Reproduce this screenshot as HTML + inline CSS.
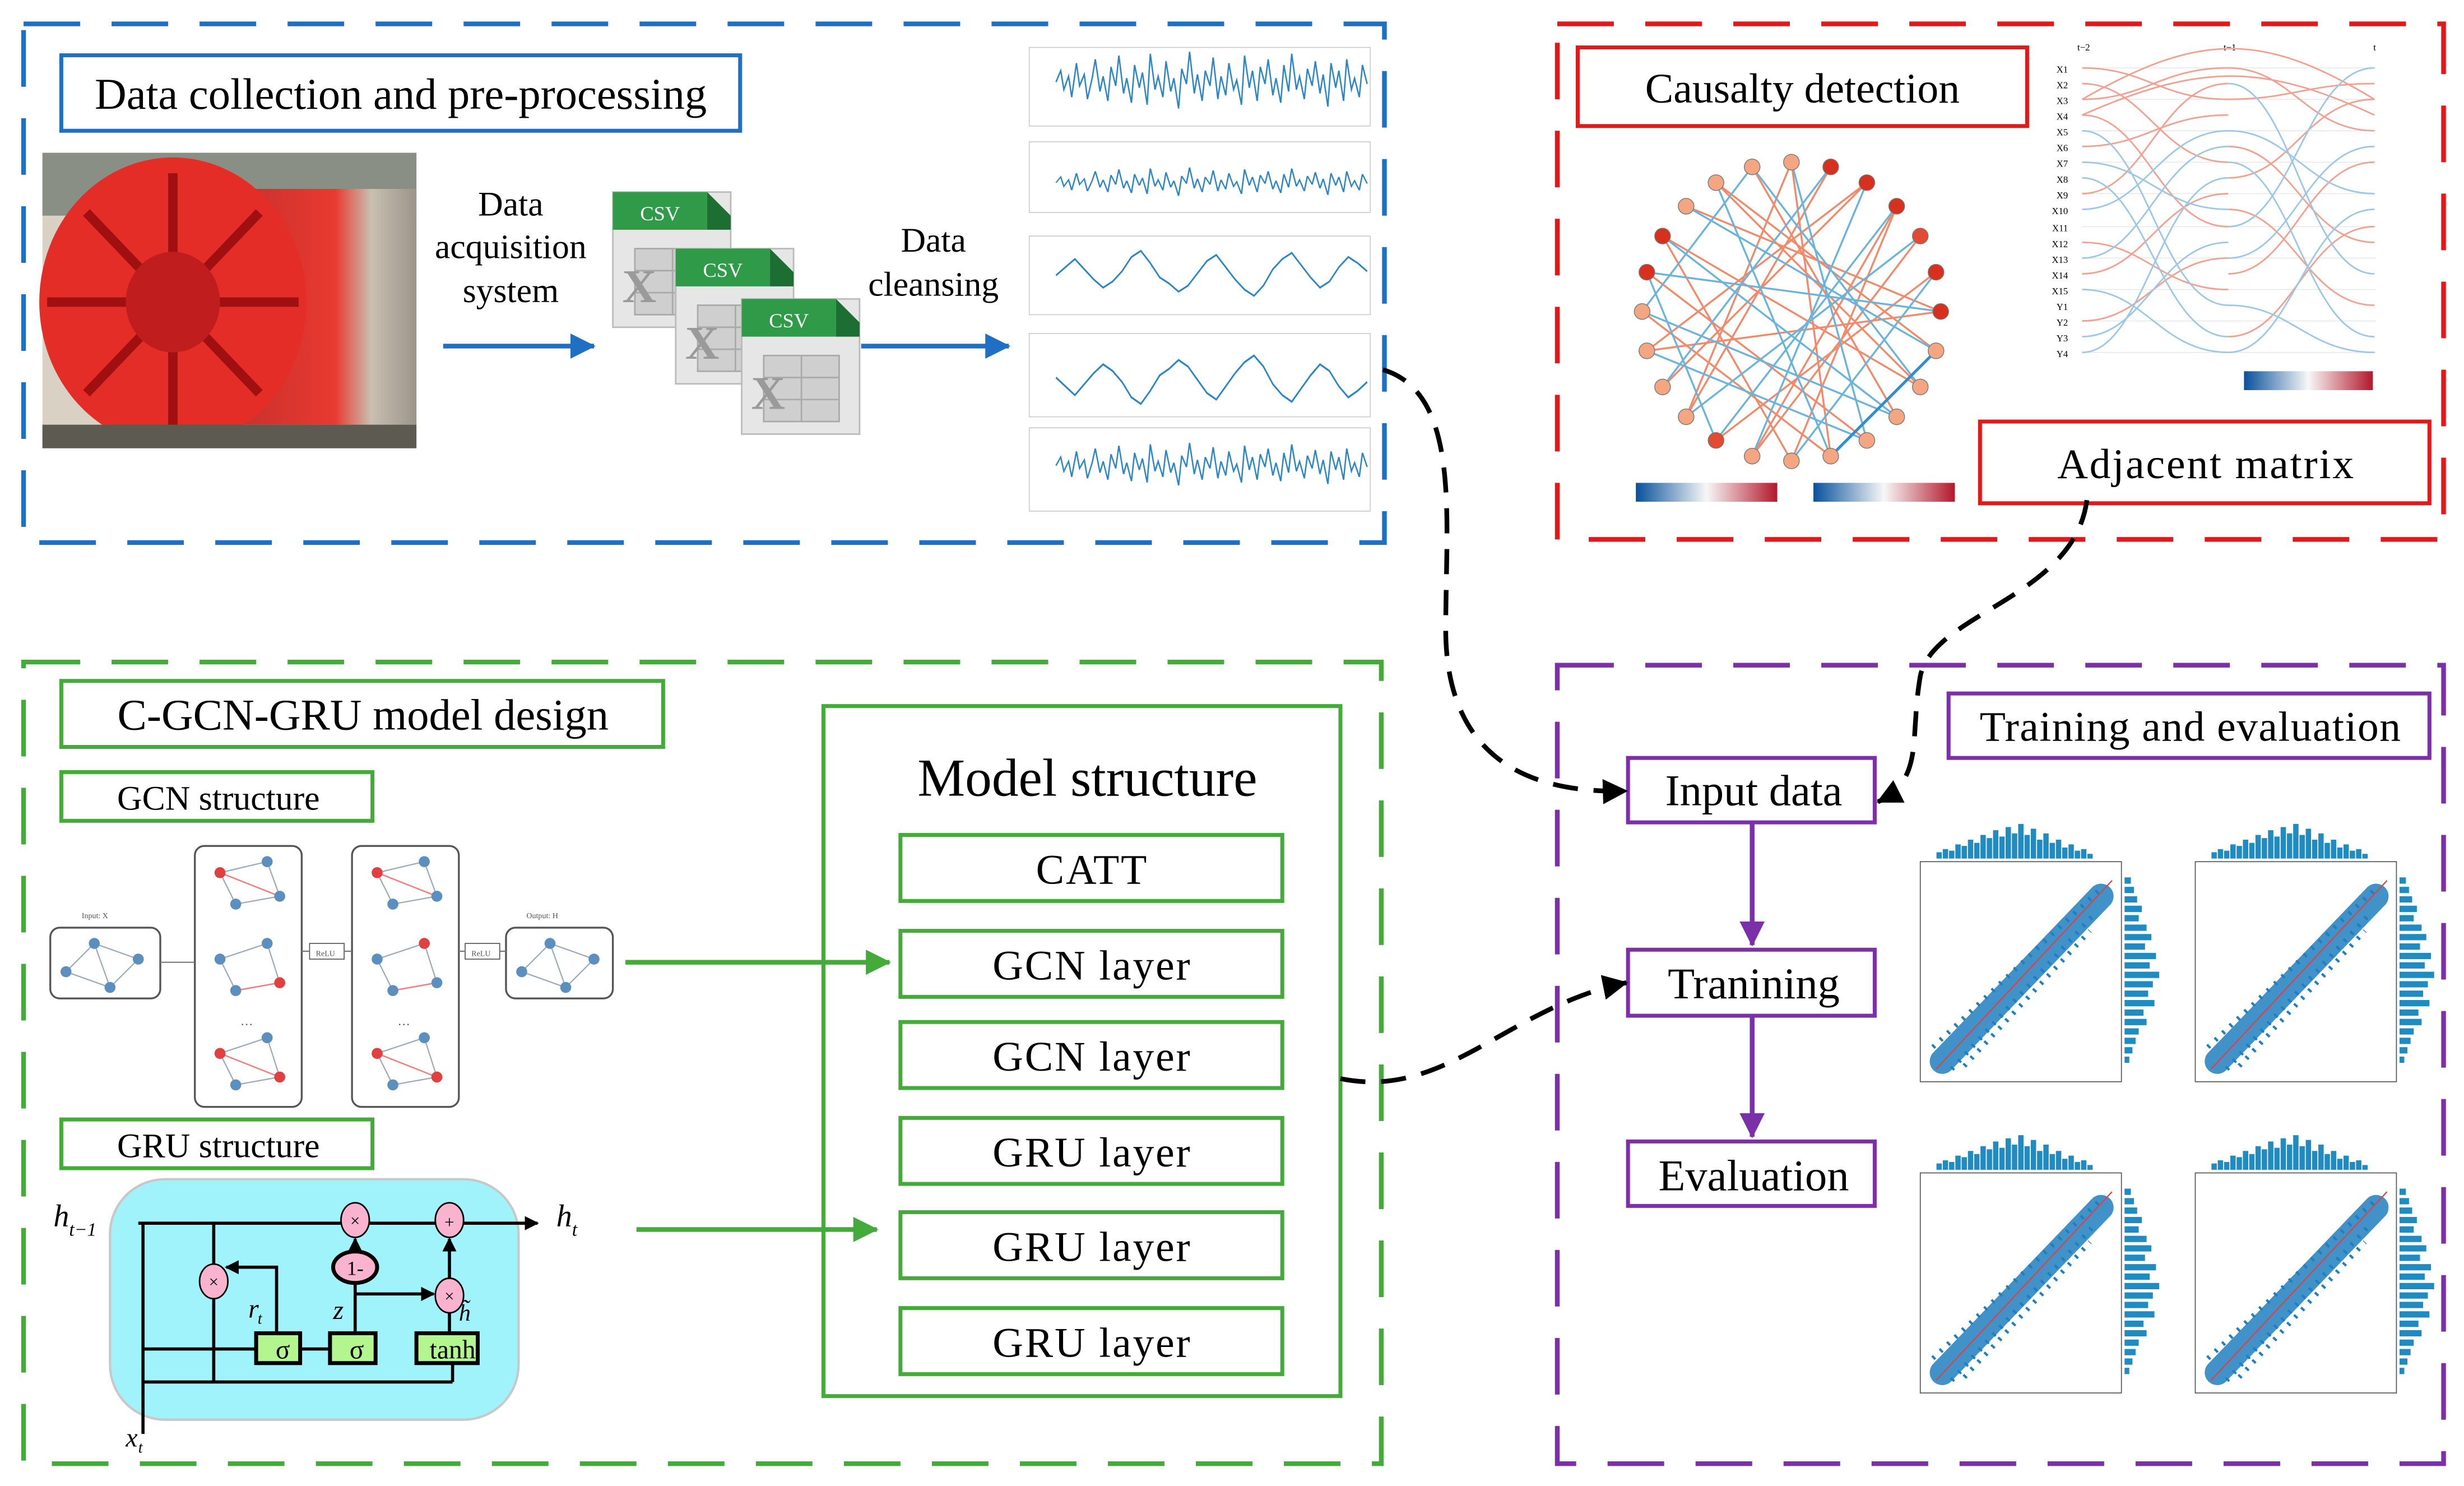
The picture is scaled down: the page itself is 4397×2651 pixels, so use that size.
<!DOCTYPE html>
<html><head><meta charset="utf-8"><style>
html,body{margin:0;padding:0;background:#fff;}
svg{display:block;}
text{font-family:"Liberation Serif",serif;}
</style></head><body>
<svg width="4397" height="2651" viewBox="0 0 1568 945" xmlns="http://www.w3.org/2000/svg" xmlns:xlink="http://www.w3.org/1999/xlink">
<defs>
<marker id="ab" markerWidth="16" markerHeight="16" refX="15" refY="8" orient="auto" markerUnits="userSpaceOnUse"><path d="M0,0 L16,8 L0,16z" fill="#1f6fc5"/></marker>
<marker id="ag" markerWidth="16" markerHeight="16" refX="15" refY="8" orient="auto" markerUnits="userSpaceOnUse"><path d="M0,0 L16,8 L0,16z" fill="#44aa3a"/></marker>
<marker id="ap" markerWidth="16" markerHeight="16" refX="15" refY="8" orient="auto" markerUnits="userSpaceOnUse"><path d="M0,0 L16,8 L0,16z" fill="#7b2fa8"/></marker>
<marker id="ak" markerWidth="16" markerHeight="16" refX="15" refY="8" orient="auto" markerUnits="userSpaceOnUse"><path d="M0,0 L16,8 L0,16z" fill="#000"/></marker>
<marker id="ak2" markerWidth="9" markerHeight="9" refX="8" refY="4.5" orient="auto" markerUnits="userSpaceOnUse"><path d="M0,0 L9,4.5 L0,9z" fill="#000"/></marker>
<linearGradient id="tbm" x1="0" y1="0" x2="1" y2="0"><stop offset="0" stop-color="#c8302c"/><stop offset=".55" stop-color="#e83a30"/><stop offset=".75" stop-color="#c8c0b0"/><stop offset="1" stop-color="#9a948a"/></linearGradient>
<linearGradient id="cb"><stop offset="0" stop-color="#08519c"/><stop offset=".5" stop-color="#f7f7f7"/><stop offset="1" stop-color="#b2182b"/></linearGradient>
<g id="csvi">
<rect x="0" y="0" width="75" height="86" fill="#e6e6e6" stroke="#bbb"/>
<rect x="0" y="0" width="60" height="24" fill="#2f9a48"/>
<path d="M60,0 l15,15 v9 h-15z" fill="#1d6e33"/>
<text x="30" y="18" font-family="Liberation Sans" font-size="13" fill="#fff" text-anchor="middle">CSV</text>
<rect x="14" y="36" width="48" height="42" fill="#cfcfcf" stroke="#aaa"/>
<path d="M38,36 v42 M14,50 h48 M14,64 h48" stroke="#aaa"/>
<text x="6" y="70" font-family="Liberation Sans" font-size="30" font-weight="bold" fill="#9a9a9a">X</text>
</g>
<polyline id="s1" fill="none" stroke="#2b86c4" stroke-width="0.9" points="0,0 3,-6 5,4 8,-3 10,8 13,-10 15,2 18,-4 20,9 23,-2 25,-12 28,5 30,-3 33,10 35,-8 38,2 40,-14 43,6 45,-2 48,11 50,-9 53,3 55,-5 58,12 60,-15 63,4 65,-3 68,8 70,-11 73,5 75,-2 78,14 80,-7 83,1 85,-16 88,6 90,-4 93,10 95,-6 98,2 100,-13 103,9 105,-3 108,7 110,-10 113,4 115,-1 118,12 120,-14 123,3 125,-6 128,10 130,-8 133,1 135,-12 138,7 140,-2 143,11 145,-9 148,5 150,-15 153,4 155,-3 158,9 160,-7 163,2 165,-11 168,6 170,-4 173,13 175,-10 178,3 180,-6 183,10 185,-12 188,4 190,-2 193,8 195,-9 198,1"/>
<polyline id="s2" fill="none" stroke="#2b86c4" stroke-width="0.9" points="0,0 6,-4 12,-8 18,-3 24,2 30,6 36,3 42,-2 48,-9 54,-12 60,-6 66,1 72,4 78,8 84,5 90,-1 96,-7 102,-10 108,-4 114,2 120,7 126,10 132,5 138,-3 144,-8 150,-11 156,-5 162,1 168,6 174,3 180,-4 186,-9 192,-6 198,-2"/>
<g id="plot">
<rect x="0" y="28" width="128" height="140" fill="#fff" stroke="#555" stroke-width="0.6"/>
<path d="M12,26 v-4 M16,26 v-6 M20,26 v-5 M24,26 v-9 M28,26 v-8 M32,26 v-12 M36,26 v-10 M40,26 v-15 M44,26 v-13 M48,26 v-18 M52,26 v-14 M56,26 v-20 M60,26 v-16 M64,26 v-22 M68,26 v-15 M72,26 v-19 M76,26 v-12 M80,26 v-16 M84,26 v-10 M88,26 v-12 M92,26 v-7 M96,26 v-9 M100,26 v-5 M104,26 v-6 M108,26 v-3" stroke="#1f8bc0" stroke-width="3.4"/>
<path d="M130,40 h4 M130,46 h6 M130,52 h8 M130,58 h11 M130,64 h9 M130,70 h14 M130,76 h17 M130,82 h13 M130,88 h20 M130,94 h16 M130,100 h22 M130,106 h18 M130,112 h15 M130,118 h19 M130,124 h12 M130,130 h14 M130,136 h9 M130,142 h7 M130,148 h5 M130,154 h3" stroke="#1f8bc0" stroke-width="4"/>
<path d="M14,155 L115,50" stroke="#1f7fc0" stroke-width="16" stroke-dasharray="1.8 1" stroke-linecap="round" opacity=".85"/>
<path d="M20,160 L112,60 M8,146 L116,44 M28,158 L108,72" stroke="#1f7fc0" stroke-width="3" stroke-dasharray="1.5 5"/>
<path d="M10,160 L122,40" stroke="#e04040" stroke-width="0.8"/>
</g>
</defs>
<rect x="15" y="15" width="866" height="330" fill="none" stroke="#1f6fc5" stroke-width="3" stroke-dasharray="36 20"/>
<rect x="991" y="15" width="564" height="328" fill="none" stroke="#e01a1a" stroke-width="3" stroke-dasharray="36 20"/>
<rect x="15" y="421" width="864" height="510" fill="none" stroke="#44aa3a" stroke-width="3" stroke-dasharray="36 20"/>
<rect x="991" y="423" width="564" height="508" fill="none" stroke="#7b2fa8" stroke-width="3" stroke-dasharray="36 20"/>

<rect x="39" y="35" width="432" height="48" fill="#fff" stroke="#1f6fc5" stroke-width="2.5"/>
<text x="255" y="69" font-size="28" text-anchor="middle">Data collection and pre-processing</text>
<rect x="27" y="97" width="238" height="188" fill="#d9d2c4"/>
<rect x="27" y="97" width="238" height="40" fill="#8a8f86"/>
<rect x="150" y="120" width="115" height="150" fill="url(#tbm)"/>
<ellipse cx="110" cy="192" rx="85" ry="92" fill="#e52d28"/>
<g stroke="#a01010" stroke-width="6"><path d="M110,110 v164 M30,192 h160 M55,135 L165,250 M165,135 L55,250"/></g>
<ellipse cx="110" cy="192" rx="30" ry="32" fill="#c01e1e"/>
<rect x="27" y="270" width="238" height="15" fill="#5d5a52"/>
<text font-size="22" text-anchor="middle"><tspan x="325" y="137">Data</tspan><tspan x="325" y="164">acquisition</tspan><tspan x="325" y="192">system</tspan></text>
<line x1="282" y1="220" x2="378" y2="220" stroke="#1f6fc5" stroke-width="3" marker-end="url(#ab)"/>
<use xlink:href="#csvi" x="390" y="122"/><use xlink:href="#csvi" x="430" y="158"/><use xlink:href="#csvi" x="472" y="190"/>
<text font-size="22" text-anchor="middle"><tspan x="594" y="160">Data</tspan><tspan x="594" y="188">cleansing</tspan></text>
<line x1="548" y1="220" x2="642" y2="220" stroke="#1f6fc5" stroke-width="3" marker-end="url(#ab)"/>
<g fill="#fff" stroke="#ccc" stroke-width="0.6"><rect x="655" y="30" width="217" height="50"/><rect x="655" y="90" width="217" height="45"/><rect x="655" y="150" width="217" height="50"/><rect x="655" y="212" width="217" height="53"/><rect x="655" y="272" width="217" height="53"/></g>
<use xlink:href="#s1" transform="translate(672,52) scale(1,1.2)"/>
<use xlink:href="#s1" transform="translate(672,116) scale(1,0.6)"/>
<use xlink:href="#s2" transform="translate(672,175) scale(1,1.3)"/>
<use xlink:href="#s2" transform="translate(672,240) scale(1,-1.4)"/>
<use xlink:href="#s1" transform="translate(672,296) scale(1,0.9)"/>

<rect x="1004" y="30" width="286" height="50" fill="#fff" stroke="#e01a1a" stroke-width="2.5"/>
<text x="1147" y="65" font-size="27" text-anchor="middle">Causalty detection</text>
<g fill="none" stroke-width="1.2">
<path stroke="#f08a6a" d="M1235,198 L1073,131 M1232,223 L1092,116 M1222,246 L1058,150 M1207,265 L1115,106 M1188,280 L1048,173 M1165,290 L1140,103 M1140,293 L1207,131 M1115,290 L1222,150 M1092,280 L1232,173 M1073,265 L1165,106 M1058,246 L1188,116 M1048,223 L1235,198 M1045,198 L1165,290 M1058,150 L1140,293 M1092,116 L1222,246 M1140,103 L1073,265 M1188,116 L1048,223 M1207,131 L1115,290"/>
<path stroke="#6ab4dc" d="M1235,198 L1048,173 M1232,223 L1073,131 M1222,246 L1115,106 M1207,265 L1058,150 M1188,280 L1140,103 M1165,290 L1092,116 M1140,293 L1232,173 M1115,290 L1188,116 M1092,280 L1207,131 M1073,265 L1222,150 M1058,246 L1165,106 M1048,223 L1188,280 M1045,198 L1207,265 M1048,173 L1092,280 M1073,131 L1232,223 M1115,106 L1045,198"/>
<path stroke="#2f8fcf" stroke-width="1.8" d="M1165,290 L1232,223"/>
</g>
<g stroke="#777" stroke-width="0.5">
<circle cx="1235" cy="198" r="5" fill="#d7301f"/><circle cx="1232" cy="223" r="5" fill="#f4a582"/><circle cx="1222" cy="246" r="5" fill="#f4a582"/><circle cx="1207" cy="265" r="5" fill="#f4a582"/><circle cx="1188" cy="280" r="5" fill="#f4a582"/><circle cx="1165" cy="290" r="5" fill="#f4a582"/><circle cx="1140" cy="293" r="5" fill="#f4a582"/><circle cx="1115" cy="290" r="5" fill="#f4a582"/><circle cx="1092" cy="280" r="5" fill="#e34a33"/><circle cx="1073" cy="265" r="5" fill="#f4a582"/><circle cx="1058" cy="246" r="5" fill="#f4a582"/><circle cx="1048" cy="223" r="5" fill="#f4a582"/><circle cx="1045" cy="198" r="5" fill="#f4a582"/><circle cx="1048" cy="173" r="5" fill="#d7301f"/><circle cx="1058" cy="150" r="5" fill="#d7301f"/><circle cx="1073" cy="131" r="5" fill="#f4a582"/><circle cx="1092" cy="116" r="5" fill="#f4a582"/><circle cx="1115" cy="106" r="5" fill="#f4a582"/><circle cx="1140" cy="103" r="5" fill="#f4a582"/><circle cx="1165" cy="106" r="5" fill="#d7301f"/><circle cx="1188" cy="116" r="5" fill="#d7301f"/><circle cx="1207" cy="131" r="5" fill="#d7301f"/><circle cx="1222" cy="150" r="5" fill="#e34a33"/><circle cx="1232" cy="173" r="5" fill="#d7301f"/>
</g>
<g font-family="Liberation Sans" font-size="6" text-anchor="end">
<text x="1316" y="46">X1</text><text x="1316" y="56">X2</text><text x="1316" y="66">X3</text><text x="1316" y="76">X4</text><text x="1316" y="86">X5</text><text x="1316" y="96">X6</text><text x="1316" y="106">X7</text><text x="1316" y="116">X8</text><text x="1316" y="126">X9</text><text x="1316" y="136">X10</text><text x="1316" y="147">X11</text><text x="1316" y="157">X12</text><text x="1316" y="167">X13</text><text x="1316" y="177">X14</text><text x="1316" y="187">X15</text><text x="1316" y="197">Y1</text><text x="1316" y="207">Y2</text><text x="1316" y="217">Y3</text><text x="1316" y="227">Y4</text>
<text x="1330" y="32">t−2</text><text x="1423" y="32">t−1</text><text x="1512" y="32">t</text>
</g>
<g stroke="#e6e6e6" stroke-width="0.5"><path d="M1325,43 H1512 M1325,63 H1512 M1325,83 H1512 M1325,103 H1512 M1325,123 H1512 M1325,144 H1512 M1325,164 H1512 M1325,184 H1512 M1325,204 H1512 M1325,224 H1512"/></g>
<g fill="none" stroke-width="1">
<path stroke="#f4a090" d="M1325,43 C1365,43 1375,63 1418,63 M1325,53 C1365,53 1375,103 1418,103 M1325,63 C1365,63 1375,43 1418,43 M1325,73 C1365,73 1375,144 1418,144 M1325,93 C1365,93 1375,73 1418,73 M1325,123 C1365,123 1375,53 1418,53 M1325,154 C1365,154 1375,184 1418,184 M1325,174 C1365,174 1375,123 1418,123 M1325,204 C1365,204 1375,164 1418,164 M1418,43 C1458,43 1468,83 1511,83 M1418,63 C1458,63 1468,53 1511,53 M1418,93 C1458,93 1468,154 1511,154 M1418,113 C1458,113 1468,63 1511,63 M1418,133 C1458,133 1468,194 1511,194 M1418,174 C1458,174 1468,103 1511,103 M1418,214 C1458,214 1468,144 1511,144 M1325,63 C1400,20 1440,20 1511,63 M1325,73 C1400,40 1440,40 1511,73"/>
<path stroke="#9cc8e6" d="M1325,83 C1365,83 1375,194 1418,194 M1325,103 C1365,103 1375,133 1418,133 M1325,113 C1365,113 1375,214 1418,214 M1325,133 C1365,133 1375,83 1418,83 M1325,164 C1365,164 1375,93 1418,93 M1325,184 C1365,184 1375,224 1418,224 M1325,214 C1365,214 1375,154 1418,154 M1325,224 C1365,224 1375,113 1418,113 M1418,53 C1458,53 1468,174 1511,174 M1418,83 C1458,83 1468,123 1511,123 M1418,103 C1458,103 1468,214 1511,214 M1418,144 C1458,144 1468,43 1511,43 M1418,164 C1458,164 1468,93 1511,93 M1418,194 C1458,194 1468,224 1511,224 M1418,224 C1458,224 1468,133 1511,133"/>
</g>
<rect x="1041" y="307" width="90" height="12" fill="url(#cb)"/>
<rect x="1154" y="307" width="90" height="12" fill="url(#cb)"/>
<rect x="1428" y="236" width="82" height="12" fill="url(#cb)"/>
<rect x="1260" y="268" width="286" height="52" fill="#fff" stroke="#e01a1a" stroke-width="2.5"/>
<text x="1404" y="304" font-size="27" text-anchor="middle" letter-spacing="1">Adjacent matrix</text>

<rect x="39" y="433" width="383" height="42" fill="#fff" stroke="#44aa3a" stroke-width="2.5"/>
<text x="231" y="464" font-size="28" text-anchor="middle">C-GCN-GRU model design</text>
<rect x="39" y="491" width="198" height="31" fill="#fff" stroke="#44aa3a" stroke-width="2.5"/>
<text x="139" y="515" font-size="22" text-anchor="middle">GCN structure</text>
<g fill="#fff" stroke="#555" stroke-width="1.2">
<rect x="32" y="590" width="70" height="45" rx="6"/><rect x="124" y="538" width="68" height="166" rx="6"/><rect x="224" y="538" width="68" height="166" rx="6"/><rect x="322" y="590" width="68" height="45" rx="6"/>
<rect x="197" y="600" width="22" height="10" stroke-width=".6"/><rect x="296" y="600" width="22" height="10" stroke-width=".6"/>
</g>
<path d="M102,612 H124 M192,605 H197 M219,605 H224 M292,605 H296 M318,605 H322" stroke="#777" stroke-width="0.8"/>
<g stroke="#9ab" stroke-width="0.8" fill="none"><path d="M42,618 L60,600 L88,610 L70,628 L42,618 M60,600 L70,628 M332,618 L350,600 L378,610 L360,628 L332,618 M350,600 L360,628 M140,555 L170,548 L178,570 L150,575z M140,610 L170,600 L178,625 L150,630z M140,670 L170,660 L178,685 L150,690z M240,555 L270,548 L278,570 L250,575z M240,610 L270,600 L278,625 L250,630z M240,670 L270,660 L278,685 L250,690z"/></g>
<g stroke="#f08080" stroke-width="0.9" fill="none"><path d="M140,555 L178,570 M150,630 L178,625 M140,670 L178,685 M240,555 L278,570 M250,630 L278,625 M240,670 L278,685"/></g>
<g fill="#5a8fc0">
<circle cx="42" cy="618" r="3.5"/><circle cx="60" cy="600" r="3.5"/><circle cx="88" cy="610" r="3.5"/><circle cx="70" cy="628" r="3.5"/>
<circle cx="332" cy="618" r="3.5"/><circle cx="350" cy="600" r="3.5"/><circle cx="378" cy="610" r="3.5"/><circle cx="360" cy="628" r="3.5"/>
<circle cx="170" cy="548" r="3.5"/><circle cx="178" cy="570" r="3.5"/><circle cx="150" cy="575" r="3.5"/><circle cx="170" cy="600" r="3.5"/><circle cx="140" cy="610" r="3.5"/><circle cx="150" cy="630" r="3.5"/><circle cx="170" cy="660" r="3.5"/><circle cx="150" cy="690" r="3.5"/>
<circle cx="270" cy="548" r="3.5"/><circle cx="278" cy="570" r="3.5"/><circle cx="250" cy="575" r="3.5"/><circle cx="240" cy="610" r="3.5"/><circle cx="250" cy="630" r="3.5"/><circle cx="278" cy="625" r="3.5"/><circle cx="270" cy="660" r="3.5"/><circle cx="250" cy="690" r="3.5"/>
</g>
<g fill="#e04040"><circle cx="140" cy="555" r="3.5"/><circle cx="178" cy="625" r="3.5"/><circle cx="140" cy="670" r="3.5"/><circle cx="178" cy="685" r="3.5"/><circle cx="240" cy="555" r="3.5"/><circle cx="270" cy="600" r="3.5"/><circle cx="240" cy="670" r="3.5"/><circle cx="278" cy="685" r="3.5"/></g>
<g font-size="5" fill="#555"><text x="52" y="584">Input: X</text><text x="335" y="584">Output: H</text><text x="201" y="608">ReLU</text><text x="300" y="608">ReLU</text><text x="153" y="652" font-size="8">…</text><text x="253" y="652" font-size="8">…</text></g>
<rect x="39" y="712" width="198" height="31" fill="#fff" stroke="#44aa3a" stroke-width="2.5"/>
<text x="139" y="736" font-size="22" text-anchor="middle">GRU structure</text>
<rect x="70" y="750" width="260" height="153" rx="35" fill="#a0f2fb" stroke="#c8c8c8" stroke-width="1.5"/>
<g stroke="#000" stroke-width="2" fill="none">
<line x1="88" y1="778" x2="342" y2="778" marker-end="url(#ak2)"/>
<line x1="91" y1="778" x2="91" y2="912"/>
<line x1="136" y1="778" x2="136" y2="879"/>
<line x1="91" y1="879" x2="288" y2="879"/><line x1="288" y1="879" x2="288" y2="866"/>
<line x1="91" y1="858" x2="226" y2="858"/><line x1="176" y1="858" x2="176" y2="866"/><line x1="226" y1="858" x2="226" y2="866"/>
<polyline points="176,848 176,806 144,806" marker-end="url(#ak2)"/>
<line x1="226" y1="848" x2="226" y2="788" marker-end="url(#ak2)"/>
<line x1="226" y1="823" x2="276" y2="823" marker-end="url(#ak2)"/>
<line x1="286" y1="848" x2="286" y2="788" marker-end="url(#ak2)"/>
</g>
<g fill="#f9b3cf" stroke="#000" stroke-width="1">
<ellipse cx="136" cy="815" rx="9" ry="11"/><ellipse cx="226" cy="776" rx="9" ry="11"/><ellipse cx="286" cy="776" rx="9" ry="11"/><ellipse cx="286" cy="824" rx="9" ry="11"/>
<ellipse cx="226" cy="806" rx="14" ry="10" stroke-width="2.5"/>
</g>
<g font-size="11" text-anchor="middle"><text x="136" y="819">×</text><text x="226" y="780">×</text><text x="286" y="781">+</text><text x="286" y="828">×</text><text x="226" y="811" font-size="13">1-</text></g>
<g fill="#b3f58f" stroke="#000" stroke-width="2.5"><rect x="163" y="848" width="28" height="19"/><rect x="210" y="848" width="29" height="19"/><rect x="265" y="848" width="39" height="19"/></g>
<g font-size="17" text-anchor="middle"><text x="180" y="864">σ</text><text x="227" y="864">σ</text><text x="288" y="864">tanh</text></g>
<g font-style="italic" font-size="20"><text x="34" y="780">h</text><text x="44" y="786" font-size="12">t−1</text><text x="354" y="780">h</text><text x="364" y="786" font-size="12">t</text><text x="158" y="838" font-size="17">r</text><text x="164" y="842" font-size="10">t</text><text x="212" y="839" font-size="17">z</text><text x="292" y="840" font-size="15">h̃</text><text x="80" y="920" font-size="17">x</text><text x="88" y="924" font-size="10">t</text></g>

<rect x="524" y="449" width="329" height="439" fill="#fff" stroke="#44aa3a" stroke-width="2.5"/>
<text x="692" y="506" font-size="34" text-anchor="middle">Model structure</text>
<g fill="#fff" stroke="#44aa3a" stroke-width="2.5">
<rect x="573" y="531" width="243" height="42"/><rect x="573" y="592" width="243" height="42"/><rect x="573" y="650" width="243" height="42"/><rect x="573" y="711" width="243" height="42"/><rect x="573" y="771" width="243" height="42"/><rect x="573" y="832" width="243" height="42"/></g>
<g font-size="27" text-anchor="middle" letter-spacing="1"><text x="695" y="562">CATT</text><text x="695" y="623">GCN layer</text><text x="695" y="681">GCN layer</text><text x="695" y="742">GRU layer</text><text x="695" y="802">GRU layer</text><text x="695" y="863">GRU layer</text></g>
<line x1="398" y1="612" x2="566" y2="612" stroke="#44aa3a" stroke-width="3" marker-end="url(#ag)"/>
<line x1="405" y1="782" x2="558" y2="782" stroke="#44aa3a" stroke-width="3" marker-end="url(#ag)"/>

<rect x="1240" y="441" width="306" height="41" fill="#fff" stroke="#7b2fa8" stroke-width="2.5"/>
<text x="1394" y="471" font-size="27" text-anchor="middle" letter-spacing="0.5">Training and evaluation</text>
<g fill="#fff" stroke="#7b2fa8" stroke-width="2.5"><rect x="1036" y="482" width="157" height="41"/><rect x="1036" y="604" width="157" height="42"/><rect x="1036" y="726" width="157" height="41"/></g>
<g font-size="28" text-anchor="middle"><text x="1116" y="512">Input data</text><text x="1116" y="635">Tranining</text><text x="1116" y="757">Evaluation</text></g>
<line x1="1115" y1="523" x2="1115" y2="601" stroke="#7b2fa8" stroke-width="3" marker-end="url(#ap)"/>
<line x1="1115" y1="646" x2="1115" y2="723" stroke="#7b2fa8" stroke-width="3" marker-end="url(#ap)"/>
<use xlink:href="#plot" x="1222" y="520"/>
<use xlink:href="#plot" x="1397" y="520"/>
<use xlink:href="#plot" x="1222" y="718"/>
<use xlink:href="#plot" x="1397" y="718"/>

<g fill="none" stroke="#000" stroke-width="3" stroke-dasharray="16 10">
<path d="M880,235 C930,250 920,330 920,400 C920,480 970,505 1035,503" marker-end="url(#ak)"/>
<path d="M1328,318 C1320,380 1230,390 1222,430 C1215,470 1225,495 1195,510" marker-end="url(#ak)"/>
<path d="M853,686 C920,700 960,640 1035,625" marker-end="url(#ak)"/>
</g>
</svg>
</body></html>
